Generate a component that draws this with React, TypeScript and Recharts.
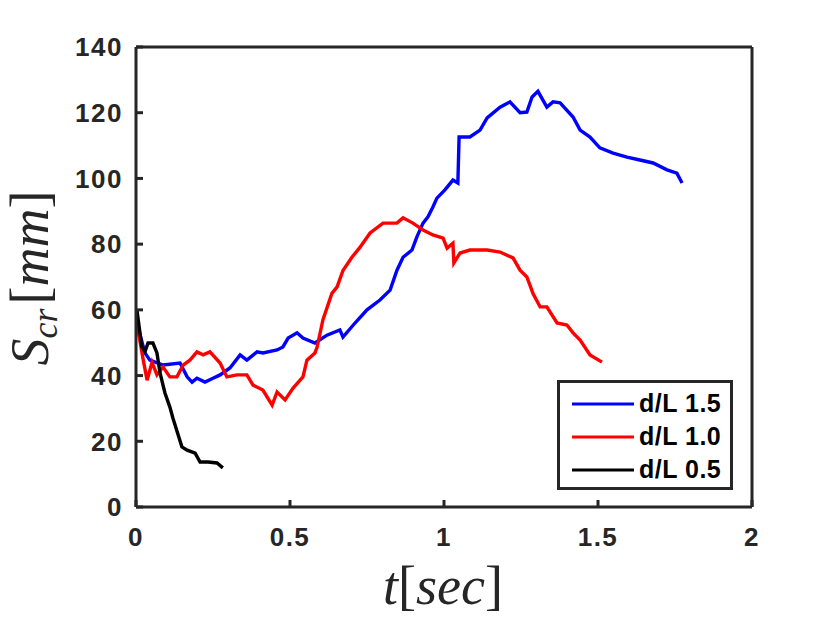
import React from 'react'
import { LineChart, Line, XAxis, YAxis, Legend } from 'recharts'

// time (s) and S_cr (mm)
const tBlue = [0, 0.029, 0.045, 0.088, 0.143, 0.166, 0.182, 0.198, 0.224, 0.25, 0.273, 0.305, 0.338, 0.36, 0.393, 0.412, 0.458, 0.477, 0.494, 0.523, 0.542, 0.581, 0.62, 0.662, 0.672, 0.711, 0.75, 0.792, 0.825, 0.847, 0.867, 0.896, 0.912, 0.932, 0.948, 0.964, 0.977, 1.003, 1.029, 1.045, 1.049, 1.084, 1.117, 1.14, 1.182, 1.214, 1.247, 1.269, 1.286, 1.305, 1.334, 1.354, 1.377, 1.419, 1.442, 1.474, 1.506, 1.549, 1.594, 1.636, 1.679, 1.724, 1.756, 1.773]
const sBlue = [57, 46.9, 44.7, 43.2, 43.8, 39.6, 38, 39.2, 38, 39.2, 40.2, 42.3, 46.3, 44.7, 47.2, 46.9, 47.8, 48.7, 51.4, 53, 51.4, 49.9, 52.3, 53.9, 51.7, 56, 60, 63, 66, 72, 76, 78.2, 82.2, 86.4, 88.3, 91.3, 94, 96.5, 99.5, 98.6, 112.6, 112.6, 114.7, 118.4, 121.7, 123.3, 120, 120.2, 124.8, 126.5, 121.7, 123.3, 123, 118.7, 114.7, 112.6, 109.3, 107.7, 106.5, 105.6, 104.7, 102.6, 101.6, 98.6]

const tRed = [0, 0.023, 0.036, 0.052, 0.068, 0.088, 0.11, 0.133, 0.153, 0.175, 0.198, 0.218, 0.24, 0.273, 0.295, 0.328, 0.36, 0.38, 0.412, 0.442, 0.458, 0.484, 0.51, 0.542, 0.555, 0.581, 0.588, 0.607, 0.636, 0.653, 0.672, 0.701, 0.727, 0.76, 0.802, 0.847, 0.867, 0.899, 0.932, 0.964, 0.997, 1.01, 1.029, 1.032, 1.052, 1.084, 1.14, 1.182, 1.224, 1.247, 1.269, 1.289, 1.312, 1.334, 1.367, 1.399, 1.419, 1.442, 1.474, 1.513]
const sRed = [57.5, 45, 38.6, 44, 40.2, 42.6, 39.6, 39.6, 43.2, 44.7, 47.2, 46.3, 47.2, 43.8, 39.6, 40.2, 40.2, 37.1, 35.6, 31, 35, 32.6, 36.2, 39.6, 44.7, 46.9, 48.7, 57, 65, 67, 72, 76, 79, 83.4, 86.4, 86.4, 88, 86.4, 84.3, 82.8, 81.8, 78.8, 80.3, 74.3, 77.3, 78.2, 78.2, 77.6, 75.8, 72.1, 70, 65, 60.9, 60.9, 56, 55.4, 53, 50.8, 46.3, 44.1]

const tBlack = [0.003, 0.019, 0.029, 0.039, 0.055, 0.068, 0.078, 0.094, 0.11, 0.12, 0.149, 0.166, 0.192, 0.208, 0.234, 0.263, 0.282]
const sBlack = [60, 48.7, 47.2, 49.9, 49.9, 46.9, 40.8, 34.7, 30.4, 27, 18.3, 17.3, 16.4, 13.7, 13.7, 13.4, 11.9]

const xTicks = [0, 0.5, 1, 1.5, 2]
const yTicks = [0, 20, 40, 60, 80, 100, 120, 140]

const seriesNames = ['d/L 1.5', 'd/L 1.0', 'd/L 0.5']
const seriesColors = ['#0000ff', '#ff0000', '#000000']

const toRows = (t: number[], s: number[]) => t.map((v, i) => ({ t: v, s: s[i] }))

const blueData = toRows(tBlue, sBlue)
const redData = toRows(tRed, sRed)
const blackData = toRows(tBlack, sBlack)

const AXIS = '#262626'
const sansFont = 'Liberation Sans, Arial, sans-serif'
const mathFont = 'Liberation Serif, DejaVu Serif, serif'
const tickStyle = { fill: AXIS, fontSize: 26, fontWeight: 700, fontFamily: sansFont, letterSpacing: 1.5 }

function LegendBox() {
  return (
    <div
      style={{
        width: 176,
        height: 110,
        boxSizing: 'border-box',
        border: `3px solid ${AXIS}`,
        background: '#fff',
        paddingTop: 4,
        paddingLeft: 10,
      }}
    >
      {seriesNames.map((name, i) => (
        <div key={name} style={{ display: 'flex', alignItems: 'center', height: 33 }}>
          <svg width={64} height={10}>
            <line x1={2} y1={5} x2={64} y2={5} stroke={seriesColors[i]} strokeWidth={3} />
          </svg>
          <span
            style={{
              marginLeft: 5,
              fontSize: 25,
              fontWeight: 700,
              fontFamily: sansFont,
              letterSpacing: 0.5,
              color: '#000',
              lineHeight: '33px',
            }}
          >
            {name}
          </span>
        </div>
      ))}
    </div>
  )
}

export default function App() {
  return (
    <div style={{ position: 'absolute', left: 0, top: 0, width: 830, height: 623, background: '#fff' }}>
      <LineChart width={830} height={623} margin={{ top: 47, right: 78, bottom: 66, left: 56 }}>
        <XAxis
          type="number"
          dataKey="t"
          domain={[0, 2]}
          ticks={xTicks}
          tickFormatter={(v) => String(v)}
          height={50}
          stroke={AXIS}
          strokeWidth={3}
          tickSize={-7}
          tickMargin={28}
          tick={tickStyle}
          allowDataOverflow
          label={{
            content: () => (
              <text x={443} y={604} textAnchor="middle" fontFamily={mathFont} fontSize={54} fill={AXIS}>
                <tspan fontStyle="italic">t</tspan>
                <tspan>[</tspan>
                <tspan fontStyle="italic">sec</tspan>
                <tspan>]</tspan>
              </text>
            ),
          }}
        />
        <XAxis
          xAxisId="top"
          orientation="top"
          type="number"
          domain={[0, 2]}
          ticks={xTicks}
          mirror
          tick={false}
          tickSize={7}
          stroke={AXIS}
          strokeWidth={3}
          allowDataOverflow
        />
        <YAxis
          type="number"
          domain={[0, 140]}
          ticks={yTicks}
          width={80}
          stroke={AXIS}
          strokeWidth={3}
          tickSize={-7}
          tickMargin={20}
          tick={tickStyle}
          allowDataOverflow
          label={{
            content: () => (
              <text
                x={48}
                y={278}
                transform="rotate(-90, 48, 278)"
                textAnchor="middle"
                fontFamily={mathFont}
                fontSize={54}
                fill={AXIS}
              >
                <tspan fontStyle="italic">S</tspan>
                <tspan fontStyle="italic" fontSize={36} dy={9}>cr</tspan>
                <tspan dy={-9} dx={4}>[</tspan>
                <tspan fontStyle="italic">mm</tspan>
                <tspan>]</tspan>
              </text>
            ),
          }}
        />
        <YAxis
          yAxisId="right"
          orientation="right"
          type="number"
          domain={[0, 140]}
          ticks={yTicks}
          mirror
          tick={false}
          tickSize={7}
          stroke={AXIS}
          strokeWidth={3}
          allowDataOverflow
        />
        <Line data={blueData} dataKey="s" name={seriesNames[0]} stroke={seriesColors[0]} strokeWidth={3.4} dot={false} isAnimationActive={false} />
        <Line data={redData} dataKey="s" name={seriesNames[1]} stroke={seriesColors[1]} strokeWidth={3.4} dot={false} isAnimationActive={false} />
        <Line data={blackData} dataKey="s" name={seriesNames[2]} stroke={seriesColors[2]} strokeWidth={3.4} dot={false} isAnimationActive={false} />
        <Legend
          layout="vertical"
          align="center"
          verticalAlign="middle"
          content={() => <LegendBox />}
          wrapperStyle={{ position: 'absolute', left: 557, top: 380, width: 176, height: 110 }}
        />
      </LineChart>
    </div>
  )
}
